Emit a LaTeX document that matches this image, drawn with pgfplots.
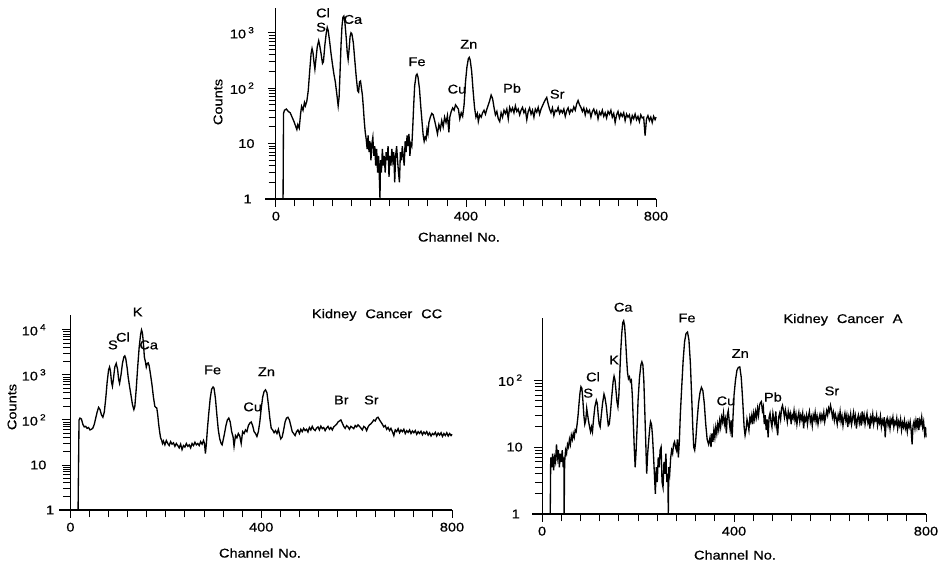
\documentclass[border=0pt]{standalone}
\usepackage{pgfplots}
\pgfplotsset{compat=1.18}
\usepackage{fontspec}
\setmainfont{Liberation Sans}[FakeStretch=1.15, FakeBold=0.6]

% spectra: channel, counts
\pgfplotstableread{
ch c
15 1
16 35
18 40
22 42
26 38
30 36
34 30
38 25
42 20
44 18
46 22
49 19
52 35
54 47
57 40
60 55
62 48
65 58
68 90
71 200
74 420
76 520
78 440
80 300
82 220
84 320
87 560
90 720
92 600
95 420
98 280
100 300
103 600
106 1000
108 1250
110 1100
113 700
116 420
119 270
122 180
125 130
128 80
131 48
133 70
135 200
137 600
139 1300
141 1900
143 2000
145 1600
148 800
150 450
152 330
154 500
156 850
158 1000
160 950
163 650
166 320
169 160
172 90
174 85
176 130
178 135
180 100
182 75
184 45
186 25
188 16
190 12
192 8
194 14
196 7
198 11
200 5
202 10
204 13
206 6
208 9
210 4
212 8
214 3
216 6
218 2
219 1
220 5
222 3
224 8
226 4
228 6
230 3
232 7
234 5
236 9
238 2.5
240 6
242 4
244 8
246 5
248 7
250 2
252 6
254 9
256 5
258 3
260 2
262 7
264 5
266 9
268 6
270 4
272 11
274 7
276 14
278 9
280 15
282 6
284 10
286 9
288 20
290 50
292 110
295 170
297 180
299 160
302 100
305 45
308 22
310 14
312 11
314 13
316 12
318 18
320 15
322 24
325 30
328 35
331 33
334 26
337 20
340 15
343 22
346 18
349 26
352 20
355 30
358 24
361 32
364 16
366 30
369 38
372 44
375 40
378 50
381 46
384 42
387 28
390 36
393 31
396 50
399 130
402 240
405 340
407 360
409 320
412 200
415 90
418 45
421 30
424 35
426 25
429 33
432 30
435 36
438 40
441 34
444 42
447 50
450 60
453 75
456 65
459 45
462 33
465 38
468 28
471 25
474 36
477 30
480 40
483 35
486 42
489 28
492 45
495 38
498 44
501 36
504 48
507 38
510 42
513 33
516 40
519 45
522 36
525 41
528 27
531 38
534 44
537 34
540 40
543 30
546 42
549 37
552 45
555 34
558 42
561 48
564 55
567 62
570 68
573 52
576 42
579 36
582 44
585 32
588 40
591 38
594 45
597 35
600 40
603 36
606 42
609 31
612 39
615 44
618 35
621 41
624 38
627 46
630 40
633 52
636 60
639 50
642 45
645 38
648 44
651 33
654 42
657 36
660 40
663 30
666 38
669 42
672 34
675 39
678 28
681 37
684 33
687 40
690 31
693 36
696 29
699 38
702 34
705 40
708 30
711 35
714 24
717 33
720 38
723 29
726 35
729 31
732 36
735 26
738 34
741 30
744 33
747 24
750 32
753 28
756 34
759 27
762 31
765 25
768 33
771 29
774 30
777 14
780 28
783 32
786 26
789 30
792 24
795 31
798 27
800 30
}\tissue

\pgfplotstableread{
ch c
16 1
18 100
20 110
23 105
26 80
29 70
32 72
35 65
38 68
41 60
44 62
47 66
50 80
53 110
56 150
59 190
62 170
65 130
68 115
71 150
74 300
77 700
80 1300
82 1500
84 1200
86 700
88 560
90 800
93 1500
96 1800
99 1300
101 800
103 650
106 1000
109 1800
112 2500
114 2650
116 2300
119 1400
121 900
124 550
127 350
130 220
133 170
135 200
138 500
141 1500
144 4000
147 7800
149 10000
151 8500
153 5000
155 2500
157 2000
159 1500
161 1800
163 1850
165 1600
168 1000
171 600
174 320
177 200
179 190
181 185
183 130
185 80
187 55
189 40
191 36
193 30
195 34
198 28
201 35
204 30
207 27
210 33
213 29
216 31
219 26
222 30
225 27
228 24
231 29
234 22
237 27
240 25
243 30
246 26
249 28
252 24
255 30
258 27
261 32
264 28
267 30
270 27
273 33
276 29
279 35
281 30
283 18
285 30
287 60
290 140
293 300
296 480
299 540
301 510
304 300
307 130
310 60
313 38
316 30
318 28
320 35
323 50
326 75
329 100
332 110
335 90
338 55
341 42
343 26
346 45
349 40
352 50
355 44
358 30
361 55
364 50
367 60
370 55
373 75
376 85
379 90
382 75
385 55
388 50
391 43
394 55
397 90
400 180
403 320
406 430
409 465
412 400
415 220
418 110
421 65
424 60
427 52
430 58
433 50
436 62
439 45
441 38
444 42
447 60
450 90
453 110
456 115
459 100
462 75
465 55
468 50
471 45
474 55
477 60
480 50
483 62
486 55
489 65
492 58
495 62
498 54
501 68
504 60
507 72
510 62
513 58
516 66
519 70
522 60
525 73
528 64
531 68
534 58
537 66
540 72
543 62
546 68
549 60
552 70
555 75
558 80
561 90
564 95
567 100
570 85
573 72
576 65
579 75
582 70
585 62
588 72
591 68
594 64
597 75
600 70
603 78
606 72
609 66
612 60
615 72
618 68
621 58
624 70
627 78
630 82
633 90
636 100
639 95
642 110
645 115
648 100
651 90
654 80
657 70
660 75
663 62
666 68
669 58
672 65
675 55
678 45
681 60
684 55
687 64
690 52
693 60
696 55
699 62
702 50
705 58
708 53
711 60
714 50
717 57
720 52
723 58
726 48
729 55
732 50
735 56
738 47
741 54
744 49
747 55
750 46
753 52
756 44
759 50
762 47
765 53
768 44
771 51
774 46
777 52
780 43
783 50
786 45
789 52
792 44
795 50
798 45
800 48
}\cancercc

\pgfplotstableread{
ch c
17 1
18 7
20 5
22 8
24 4.5
26 7
28 6
30 11
32 7
34 9
36 5
38 8
40 6
42 9
44 5
45.5 7
46 1
47 6
49 9
51 8
53 11
55 10
57 13
59 11
61 15
63 13
65 16
67 14
69 18
71 17
73 22
75 30
77 45
79 65
81 80
83 75
85 50
87 30
89 22
91 25
93 38
95 30
97 24
99 20
101 17
103 20
105 17
107 25
110 40
113 50
115 45
117 30
119 22
121 20
123 28
126 45
129 62
131 55
134 40
136 28
138 21
140 22
142 30
145 55
148 95
150 115
152 100
154 70
156 48
158 40
160 60
162 130
164 280
166 500
168 720
170 770
172 650
174 400
176 220
178 130
180 105
182 112
184 95
186 100
188 60
190 25
192 10
194 5
196 9
198 20
200 50
203 110
206 170
208 188
210 170
212 100
214 35
216 12
218 4
220 8
222 12
224 18
226 24
228 22
230 15
232 8
234 4
236 2
238 5
240 3
242 7
244 5
246 9
248 10
250 3
252 2.5
254 6
256 4
258 8
260 3
262 4
263 1
264 5
266 4
268 7
270 9
272 8
274 11
276 12
278 10
280 9
282 13
284 7
286 12
288 30
291 80
294 200
297 380
300 500
303 525
306 400
309 180
312 50
314 20
316 10
318 9
320 12
323 25
326 45
329 65
332 78
335 70
338 45
341 22
344 13
347 11
350 14
352 10
354 16
356 12
358 18
360 14
362 20
364 16
366 22
368 18
370 25
372 20
374 28
376 24
378 32
380 22
382 26
384 16
386 30
388 35
390 24
392 18
394 25
396 14
398 30
400 60
403 100
406 140
409 155
412 158
415 110
418 50
421 20
423 15
425 18
427 26
429 22
431 18
433 28
435 24
437 30
439 22
441 32
443 26
445 34
447 28
449 38
451 30
453 42
455 46
457 48
459 35
461 40
463 22
465 30
467 18
469 26
471 14
473 28
475 32
477 24
479 20
481 32
483 26
485 22
487 34
489 20
491 15
493 28
495 32
497 26
499 38
501 42
503 35
505 28
507 36
509 30
511 24
513 34
515 28
517 32
519 22
521 30
523 27
525 35
527 25
529 31
531 22
533 28
535 33
537 24
539 30
541 26
543 32
545 19
547 28
549 25
551 30
553 22
555 29
557 34
559 24
561 28
563 21
565 30
567 26
569 33
571 24
573 29
575 22
577 27
579 31
581 25
583 30
585 26
587 33
589 24
591 29
593 35
595 30
597 38
599 34
601 42
603 36
605 28
607 33
609 25
611 31
613 27
615 22
617 30
619 26
621 34
623 24
625 29
627 21
629 27
631 32
633 25
635 30
637 20
639 28
641 24
643 31
645 22
647 27
649 33
651 24
653 29
655 19
657 26
659 30
661 23
663 28
665 21
667 34
669 25
671 30
673 22
675 27
677 32
679 23
681 26
683 19
685 28
687 24
689 31
691 22
693 27
695 25
697 30
699 21
701 26
703 23
705 29
707 20
709 25
711 22
713 28
715 14
717 24
719 27
721 21
723 25
725 19
727 26
729 23
731 28
733 20
735 24
737 22
739 27
741 19
743 24
745 21
747 26
749 18
751 23
753 20
755 25
757 19
759 22
761 17
763 23
765 20
767 24
769 18
771 11
773 21
775 24
777 19
779 25
781 20
783 27
785 18
787 25
789 22
791 28
793 20
795 24
797 16
799 20
800 14
}\cancera

\tikzset{elem/.style={font=\fontsize{9.5}{11}\selectfont, inner sep=0pt}}
\newcommand{\sep}{\hspace{0.7em}}

\begin{document}
\begin{tikzpicture}
\path[use as bounding box] (0,0) rectangle (708.75pt,423.75pt);

% tissue (top)
\begin{axis}[ymode=log, ymin=1, xmax=800, xmin=-23, ymax=2800,
  scale only axis, anchor=south west, at={(198.75pt,274.5pt)},
  width=293.25pt, height=143.25pt,
  axis x line=bottom, axis y line=middle,
  axis line style={-, line width=0.8pt},
  xtick={0,400,800}, xticklabels={0,400,800}, minor x tick num=9,
  ytick={1,10,100,1000}, yticklabels={1,10,10\,\textsuperscript{2},10\,\textsuperscript{3}},
  tick align=outside, major tick length=6pt, minor tick length=5.5pt,
  tick style={line width=0.7pt, black},
  tick label style={font=\fontsize{9.5}{11}\selectfont},
  yticklabel style={xshift=-6.5pt},
  clip=false]
\addplot[black, line width=1pt] table[x=ch, y=c] {\tissue};
\node[elem, anchor=east] at (axis cs:0,1) [xshift=-18pt] {1};
\node[elem] at (axis cs:99,2290) {Cl};
\node[elem] at (axis cs:95,1260) {S};
\node[elem] at (axis cs:162,1740) {Ca};
\node[elem] at (axis cs:297,300) {Fe};
\node[elem] at (axis cs:406,620) {Zn};
\node[elem] at (axis cs:381,96) {Cu};
\node[elem] at (axis cs:497,100) {Pb};
\node[elem] at (axis cs:592,78) {Sr};
\end{axis}

% Kidney Cancer CC (bottom left)
\begin{axis}[ymode=log, ymin=1, xmax=800, xmin=-24, ymax=21400,
  scale only axis, anchor=south west, at={(44.25pt,41.25pt)},
  width=294.75pt, height=146.25pt,
  axis x line=bottom, axis y line=middle,
  axis line style={-, line width=0.8pt},
  xtick={0,400,800}, xticklabels={0,400,800}, minor x tick num=9,
  ytick={1,10,100,1000,10000}, yticklabels={1,10,10\,\textsuperscript{2},10\,\textsuperscript{3},10\,\textsuperscript{4}},
  tick align=outside, major tick length=6pt, minor tick length=5.5pt,
  tick style={line width=0.7pt, black},
  tick label style={font=\fontsize{9.5}{11}\selectfont},
  yticklabel style={xshift=-8.5pt},
  clip=false]
\addplot[black, line width=1pt] table[x=ch, y=c] {\cancercc};
\node[elem, anchor=east] at (axis cs:0,1) [xshift=-12pt] {1};
\node[elem] at (axis cs:141,25000) {K};
\node[elem] at (axis cs:89,4640) {S};
\node[elem] at (axis cs:110,6900) {Cl};
\node[elem] at (axis cs:164,4640) {Ca};
\node[elem] at (axis cs:298,1290) {Fe};
\node[elem] at (axis cs:411,1170) {Zn};
\node[elem] at (axis cs:382,195) {Cu};
\node[elem] at (axis cs:568,277) {Br};
\node[elem] at (axis cs:631,277) {Sr};
\node[elem] at (axis cs:643,21500) {Kidney\sep Cancer\sep CC};
\end{axis}

% Kidney Cancer A (bottom right)
\begin{axis}[ymode=log, ymin=1, xmax=800, xmin=-21, ymax=850,
  scale only axis, anchor=south west, at={(399pt,38.25pt)},
  width=295.5pt, height=147pt,
  axis x line=bottom, axis y line=middle,
  axis line style={-, line width=0.8pt},
  xtick={0,400,800}, xticklabels={0,400,800}, minor x tick num=9,
  ytick={1,10,100}, yticklabels={1,10,10\,\textsuperscript{2}},
  tick align=outside, major tick length=6pt, minor tick length=5.5pt,
  tick style={line width=0.7pt, black},
  tick label style={font=\fontsize{9.5}{11}\selectfont},
  yticklabel style={xshift=-5pt},
  clip=false]
\addplot[black, line width=1pt] table[x=ch, y=c] {\cancera};
\node[elem, anchor=east] at (axis cs:0,1) [xshift=-16.5pt] {1};
\node[elem] at (axis cs:169,1230) {Ca};
\node[elem] at (axis cs:302,850) {Fe};
\node[elem] at (axis cs:150,200) {K};
\node[elem] at (axis cs:106,112) {Cl};
\node[elem] at (axis cs:96,64) {S};
\node[elem] at (axis cs:413,250) {Zn};
\node[elem] at (axis cs:383,49) {Cu};
\node[elem] at (axis cs:481,56) {Pb};
\node[elem] at (axis cs:604,69) {Sr};
\node[elem] at (axis cs:627,800) {Kidney\sep Cancer\sep A};
\end{axis}

\node[elem] at (344.25pt,246pt) {Channel\hspace{0.4em}No.};
\node[elem] at (195pt,9pt) {Channel\hspace{0.4em}No.};
\node[elem] at (551.25pt,7.5pt) {Channel\hspace{0.4em}No.};
\node[elem, rotate=90] at (163.5pt,347.25pt) {Counts};
\node[elem, rotate=90] at (9pt,118.5pt) {Counts};
\end{tikzpicture}
\end{document}
